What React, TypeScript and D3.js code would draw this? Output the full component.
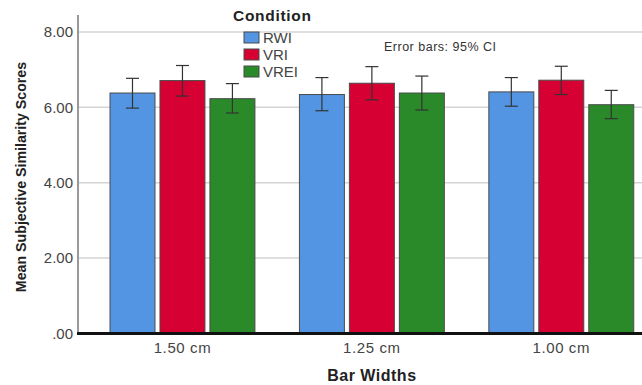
import React from 'react';
import * as d3 from 'd3';

const categories = ['1.50 cm', '1.25 cm', '1.00 cm'];
const conditions = ['RWI', 'VRI', 'VREI'];
const colors = ['#5495E3', '#D60032', '#2A8A2A'];
// means per condition, one value per bar width
const means = [
  [6.38, 6.34, 6.41],
  [6.71, 6.64, 6.72],
  [6.23, 6.38, 6.07],
];
const ciLow = [
  [5.98, 5.91, 6.03],
  [6.30, 6.20, 6.34],
  [5.85, 5.93, 5.70],
];
const ciHigh = [
  [6.77, 6.79, 6.79],
  [7.11, 7.08, 7.09],
  [6.63, 6.83, 6.45],
];
const yTicks = [0, 2, 4, 6, 8];

const W = 642;
const H = 385;
const font = '"Liberation Sans", Arial, sans-serif';

export default function App() {
  const x0 = d3.scaleBand<string>()
    .domain(categories)
    .range([87.75, 656])
    .paddingInner(0.235)
    .paddingOuter(0.1175);

  const x1 = d3.scaleBand<string>()
    .domain(conditions)
    .range([0, x0.bandwidth()])
    .paddingInner(0.1);

  const y = d3.scaleLinear().domain([0, 8.45]).range([333.5, 15]);

  const fmt = (v: number) => (v === 0 ? '.00' : d3.format('.2f')(v));
  const capW = 13;

  return (
    <svg
      width={W}
      height={H}
      style={{ position: 'absolute', left: 0, top: 0, background: '#fff' }}
    >
      {/* grid lines */}
      {yTicks.filter(t => t > 0).map(t => (
        <line key={t} x1={78} x2={W} y1={y(t)} y2={y(t)} stroke="#d4d4d4" strokeWidth={1.5} />
      ))}

      {/* y axis */}
      <line x1={78} x2={78} y1={y(8.45)} y2={y(0)} stroke="#999" strokeWidth={2} />
      {yTicks.map(t => (
        <text key={t} x={73} y={y(t)} dy="0.35em" textAnchor="end"
          fontFamily={font} fontSize={15} fill="#444">{fmt(t)}</text>
      ))}

      {/* bars */}
      {conditions.map((c, ci) => categories.map((cat, gi) => {
        const bx = (x0(cat) ?? 0) + (x1(c) ?? 0);
        const v = means[ci][gi];
        return (
          <rect key={c + cat} x={bx} y={y(v)} width={x1.bandwidth()} height={y(0) - y(v)}
            fill={colors[ci]} stroke="#4a4a4a" strokeWidth={1} />
        );
      }))}

      {/* error bars */}
      {conditions.map((c, ci) => categories.map((cat, gi) => {
        const cx = (x0(cat) ?? 0) + (x1(c) ?? 0) + x1.bandwidth() / 2;
        const lo = y(ciLow[ci][gi]);
        const hi = y(ciHigh[ci][gi]);
        return (
          <g key={'e' + c + cat} stroke="#333" strokeWidth={1.2}>
            <line x1={cx} x2={cx} y1={lo} y2={hi} />
            <line x1={cx - capW / 2} x2={cx + capW / 2} y1={hi} y2={hi} />
            <line x1={cx - capW / 2} x2={cx + capW / 2} y1={lo} y2={lo} />
          </g>
        );
      }))}

      {/* x baseline */}
      <line x1={77} x2={W} y1={y(0)} y2={y(0)} stroke="#111" strokeWidth={3} />
      {categories.map(cat => (
        <text key={cat} x={(x0(cat) ?? 0) + x0.bandwidth() / 2} y={353} textAnchor="middle"
          fontFamily={font} fontSize={15} letterSpacing={0.6} fill="#444">{cat}</text>
      ))}

      {/* axis titles */}
      <text x={(x0('1.25 cm') ?? 0) + x0.bandwidth() / 2} y={381} textAnchor="middle"
        fontFamily={font} fontSize={16} letterSpacing={0.5} fontWeight="bold" fill="#222">Bar Widths</text>
      <text transform="translate(26,177) rotate(-90)" textAnchor="middle"
        fontFamily={font} fontSize={14.2} fontWeight="bold" fill="#222">Mean Subjective Similarity Scores</text>

      {/* legend */}
      <text x={233} y={21} fontFamily={font} fontSize={15.5} letterSpacing={0.7} fontWeight="bold" fill="#222">Condition</text>
      {conditions.map((c, i) => (
        <g key={c} transform={`translate(244,${32 + i * 17})`}>
          <rect x={0} y={0} width={15} height={11} fill={colors[i]} stroke="#4a4a4a" strokeWidth={1} />
          <text x={19} y={6} dy="0.35em" fontFamily={font} fontSize={15} fill="#444">{c}</text>
        </g>
      ))}

      <text x={384} y={51} fontFamily={font} fontSize={12.5} letterSpacing={0.5} fill="#333">Error bars: 95% CI</text>
    </svg>
  );
}
